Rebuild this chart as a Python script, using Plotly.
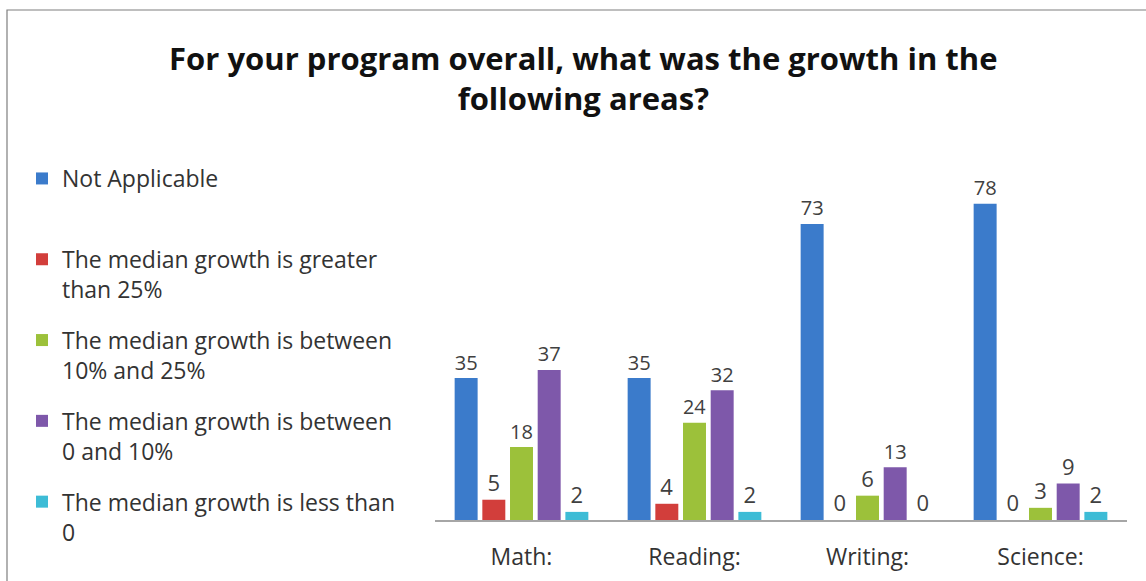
import plotly.graph_objects as go

categories = ["Math:", "Reading:", "Writing:", "Science:"]
series_names = [
    "Not Applicable<br> ",
    "The median growth is greater<br>than 25%",
    "The median growth is between<br>10% and 25%",
    "The median growth is between<br>0 and 10%",
    "The median growth is less than<br>0",
]
not_applicable = [35, 35, 73, 78]
greater_25 = [5, 4, 0, 0]
between_10_25 = [18, 24, 6, 3]
between_0_10 = [37, 32, 13, 9]
less_than_0 = [2, 2, 0, 2]
series_values = [not_applicable, greater_25, between_10_25, between_0_10, less_than_0]
colors = ["#3B7BCB", "#D23E3B", "#9CC13A", "#7E58AA", "#3DBCD6"]

FONT = "Open Sans, Liberation Sans, sans-serif"
W, H = 1146, 581
L, R, T, B = 435, 19, 155, 61
pw, ph = W - L - R, H - T - B

fig = go.Figure()
for name, vals, c in zip(series_names, series_values, colors):
    fig.add_trace(go.Bar(
        x=categories, y=vals, name=name,
        marker=dict(color=c, line=dict(width=0)),
        text=[str(v) for v in vals], textposition="outside",
        textfont=dict(size=22, color="#404040", family=FONT),
        cliponaxis=False,
        legendgroup=name,
    ))

def px_x(p):
    return (p - L) / pw

def px_y(p):
    return (H - B - p) / ph

fig.update_layout(
    width=W, height=H,
    margin=dict(l=L, r=R, t=T, b=B, autoexpand=False),
    paper_bgcolor="white", plot_bgcolor="white",
    barmode="group", bargap=0.2, bargroupgap=0.17,
    font=dict(family=FONT, color="#333333"),
    title=dict(
        text="<b>For your program overall, what was the growth in the<br>following areas?</b>",
        x=0.509, xanchor="center", y=1 - 70 / H, yanchor="middle",
        font=dict(size=31, color="#111111", family=FONT),
    ),
    legend=dict(
        x=px_x(22), xanchor="left", y=px_y(157), yanchor="top",
        font=dict(size=23, color="#333333"),
        valign="top", tracegroupgap=18, itemwidth=30,
        bgcolor="rgba(0,0,0,0)", maxheight=560,
    ),
    xaxis=dict(
        showline=True, linecolor="#A6A6A6", linewidth=1.5, ticks="",
        tickfont=dict(size=23, color="#333333"), ticklabelstandoff=16,
        range=[-0.5, 3.5], automargin=False,
    ),
    yaxis=dict(range=[0, 90], visible=False, showgrid=False, automargin=False),
    shapes=[dict(
        type="rect", xref="paper", yref="paper",
        x0=px_x(7), x1=px_x(1160), y0=px_y(600), y1=px_y(10),
        line=dict(color="#7F7F7F", width=1.2), fillcolor="rgba(0,0,0,0)", layer="below",
    )],
)

fig.write_html("out.html", post_script="document.body.style.margin='0';",
               config={"displayModeBar": False})
